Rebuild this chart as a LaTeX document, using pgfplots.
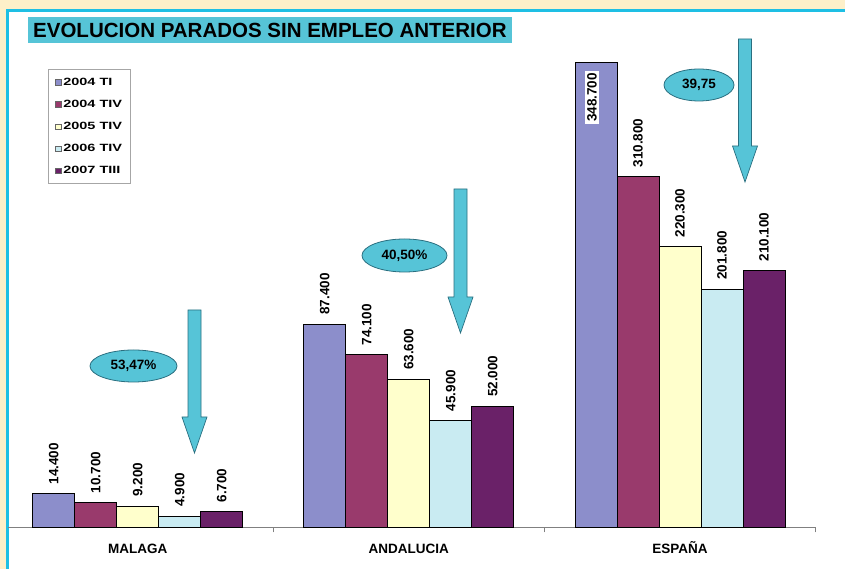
\documentclass[border=0pt]{standalone}
\usepackage{fontspec}
\setmainfont{Liberation Sans}
\usepackage{pgfplots}
\usepackage{pgfplotstable}
\pgfplotsset{compat=1.18}

\definecolor{bgyellow}{HTML}{FDF0C9}
\definecolor{frame}{HTML}{1EBFE4}
\definecolor{teal}{HTML}{56C4D7}
\definecolor{tealedge}{HTML}{2A6F80}
\definecolor{cA}{HTML}{8C8ECB}
\definecolor{cB}{HTML}{993A6C}
\definecolor{cC}{HTML}{FFFFCC}
\definecolor{cD}{HTML}{C9EBF2}
\definecolor{cE}{HTML}{6A2168}

% España is drawn on a compressed scale in the original, so its bar heights
% are the heights as drawn; the labels carry the printed figures.
\pgfplotstableread{
x y lab
0 14.4 14.400
1 87.4 87.400
2 199.7 {}
}\tA
\pgfplotstableread{
x y lab
0 10.7 10.700
1 74.1 74.100
2 150.6 310.800
}\tB
\pgfplotstableread{
x y lab
0 9.2 9.200
1 63.6 63.600
2 120.5 220.300
}\tC
\pgfplotstableread{
x y lab
0 4.9 4.900
1 45.9 45.900
2 102.4 201.800
}\tD
\pgfplotstableread{
x y lab
0 6.7 6.700
1 52.0 52.000
2 110.2 210.100
}\tE

\newcommand{\bigarrow}[4]{% x centre, top, head top, tip
  \filldraw[fill=teal, draw=tealedge, line width=0.7pt]
    ({#1-6.5},#2) -- ({#1+6.5},#2) -- ({#1+6.5},#3) -- ({#1+12.5},#3)
    -- (#1,#4) -- ({#1-12.5},#3) -- ({#1-6.5},#3) -- cycle;}
\newcommand{\legtxt}[1]{\scalebox{1.38}[1]{#1}}

\begin{document}
\begin{tikzpicture}
\useasboundingbox (0pt,0pt) rectangle (845pt,569pt);
\clip (0pt,0pt) rectangle (845pt,569pt);
\begin{scope}[x=1pt,y=1pt]
  \fill[bgyellow] (0,0) rectangle (845,569);
  \fill[white] (7.5,-5) rectangle (850,558);
  \draw[frame, line width=3pt] (7.5,-5) -- (7.5,558) -- (850,558);
  \fill[teal] (28,526) rectangle (512,552);
  \node[anchor=west, inner sep=0pt, font=\bfseries\fontsize{20.5}{23}\selectfont]
    at (33,539) {EVOLUCION PARADOS SIN EMPLEO ANTERIOR};
\end{scope}

\begin{axis}[
  at={(8pt,41.5pt)}, anchor=south west,
  x=271.2pt, y=2.328pt,
  xmin=-0.478, xmax=2.5, ymin=0, ymax=220,
  ybar, bar width=42pt,
  clip=false,
  hide y axis,
  axis x line*=bottom,
  x axis line style={draw=gray, line width=1.3pt},
  xtick={0,1,2},
  xticklabels={MALAGA,ANDALUCIA,ESPAÑA},
  major tick length=0pt,
  xticklabel style={font=\bfseries\fontsize{13.5}{16}\selectfont, anchor=base, yshift=-26pt},
  extra x ticks={0.5,1.5,2.5},
  extra x tick labels={},
  extra x tick style={major tick length=5pt, tick align=outside,
    tick style={draw=gray, line width=1pt}},
  point meta=explicit symbolic,
  nodes near coords,
  every node near coord/.append style={rotate=90, anchor=west, inner xsep=9pt,
    font=\bfseries\fontsize{13.5}{16}\selectfont, text=black},
  legend image code/.code={\draw[#1, draw=black!60, line width=0.7pt] (0pt,-2.8pt) rectangle (5.6pt,2.8pt);},
  legend style={at={(0.0496,0.8950)}, anchor=north west, draw=gray!70, line width=0.8pt,
    font=\bfseries\fontsize{10.5}{12}\selectfont, inner xsep=7pt, inner ysep=6.5pt, row sep=9.3pt,
    legend cell align=left,
    /tikz/every odd column/.append style={column sep=0pt},
    nodes={inner xsep=1.5pt}},
]
\addplot[fill=cA, draw=black, line width=1pt, bar shift=-84pt] table[x=x, y=y, meta=lab] {\tA};
\addlegendentry{\legtxt{2004 TI}}
\addplot[fill=cB, draw=black, line width=1pt, bar shift=-42pt] table[x=x, y=y, meta=lab] {\tB};
\addlegendentry{\legtxt{2004 TIV}}
\addplot[fill=cC, draw=black, line width=1pt, bar shift=0pt] table[x=x, y=y, meta=lab] {\tC};
\addlegendentry{\legtxt{2005 TIV}}
\addplot[fill=cD, draw=black, line width=1pt, bar shift=42pt] table[x=x, y=y, meta=lab] {\tD};
\addlegendentry{\legtxt{2006 TIV}}
\addplot[fill=cE, draw=black, line width=1pt, bar shift=84pt] table[x=x, y=y, meta=lab] {\tE};
\addlegendentry{\legtxt{2007 TIII}}
\node[rotate=90, fill=white, inner sep=2pt, font=\bfseries\fontsize{13.5}{16}\selectfont]
  at ([xshift=-88pt]axis cs:2,184.7) {348.700};
\end{axis}

\begin{scope}[x=1pt,y=1pt]
  \bigarrow{194.5}{259}{152}{116}
  \bigarrow{460.5}{380}{272}{236}
  \bigarrow{745}{530}{423}{387}
  \filldraw[fill=teal, draw=tealedge, line width=0.8pt] (133.5,203) ellipse [x radius=43.5, y radius=16];
  \node[font=\bfseries\fontsize{13.5}{16}\selectfont] at (133.5,203) {53,47\%};
  \filldraw[fill=teal, draw=tealedge, line width=0.8pt] (404.5,313.5) ellipse [x radius=42.5, y radius=16.5];
  \node[font=\bfseries\fontsize{13.5}{16}\selectfont] at (404.5,313.5) {40,50\%};
  \filldraw[fill=teal, draw=tealedge, line width=0.8pt] (699,484) ellipse [x radius=35, y radius=16];
  \node[font=\bfseries\fontsize{13.5}{16}\selectfont] at (699,484) {39,75};
\end{scope}
\end{tikzpicture}
\end{document}
